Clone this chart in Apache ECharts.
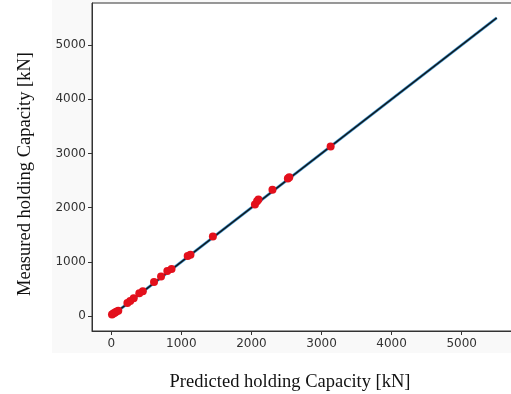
<!DOCTYPE html>
<html>
<head>
<meta charset="utf-8">
<script src="https://cdn.jsdelivr.net/npm/echarts@6/dist/echarts.min.js"></script>
<style>
  html, body { margin: 0; padding: 0; background: #fff; }
  #chart { width: 511px; height: 394px; }
</style>
</head>
<body>
<div id="chart"></div>
<script>
// predicted vs measured holding capacity [kN]
const predicted = [10, 30, 50, 70, 100, 230, 270, 320, 400, 450, 610, 710, 800, 860, 1090, 1130, 1450, 2050, 2080, 2100, 2300, 2520, 2540, 3130];
const measured  = [30, 50, 60, 80, 100, 240, 280, 330, 420, 460, 630, 730, 830, 870, 1110, 1130, 1470, 2060, 2120, 2150, 2330, 2540, 2560, 3130];
// 1:1 reference line
const refLine = [0, 5500];
const tickValues = [0, 1000, 2000, 3000, 4000, 5000];

const points = predicted.map((p, i) => [p, measured[i]]);
const linePts = refLine.map(v => [v, v]);

var myChart = echarts.init(document.getElementById('chart'));
var option = {
  animation: false,
  graphic: [
    { type: 'rect', z: -10, shape: { x: 52, y: 0, width: 459, height: 353 }, style: { fill: '#f9f9f9' } }
  ],
  grid: {
    left: 92, top: 3, width: 424, height: 328,
    containLabel: false, outerBoundsMode: 'none',
    show: true, backgroundColor: '#fff', borderColor: '#333', borderWidth: 1
  },
  xAxis: {
    type: 'value', min: -275, max: 5775,
    splitLine: { show: false },
    axisLine: { show: true, onZero: false, lineStyle: { color: '#333' } },
    axisTick: { show: true, length: 4, customValues: tickValues, lineStyle: { color: '#333' } },
    axisLabel: { customValues: tickValues, formatter: v => String(v), color: '#333', fontSize: 12, fontFamily: 'DejaVu Sans', margin: 7 },
    name: 'Predicted holding Capacity [kN]',
    nameLocation: 'middle', nameGap: 42,
    nameTextStyle: { fontFamily: 'Liberation Serif', fontSize: 18.5, color: '#111', padding: [0, 28, 0, 0] }
  },
  yAxis: {
    type: 'value', min: -275, max: 5775,
    splitLine: { show: false },
    axisLine: { show: true, onZero: false, lineStyle: { color: '#333' } },
    axisTick: { show: true, length: 4, customValues: tickValues, lineStyle: { color: '#333' } },
    axisLabel: { customValues: tickValues, formatter: v => String(v), color: '#333', fontSize: 12, fontFamily: 'DejaVu Sans', margin: 6 },
    name: 'Measured holding Capacity [kN]',
    nameLocation: 'middle', nameGap: 57,
    nameTextStyle: { fontFamily: 'Liberation Serif', fontSize: 18.5, color: '#111', padding: [0, 14, 0, 0] }
  },
  series: [
    {
      type: 'line', data: linePts, symbol: 'none', z: 1,
      lineStyle: { color: '#4a9fd8', width: 3 }
    },
    {
      type: 'line', data: linePts, symbol: 'none', z: 2,
      lineStyle: { color: '#101a20', width: 1.6 }
    },
    {
      type: 'scatter', data: points, symbol: 'circle', symbolSize: 8, z: 3,
      itemStyle: { color: '#e3101c', opacity: 1 }
    }
  ]
};
option && myChart.setOption(option);
</script>
</body>
</html>
